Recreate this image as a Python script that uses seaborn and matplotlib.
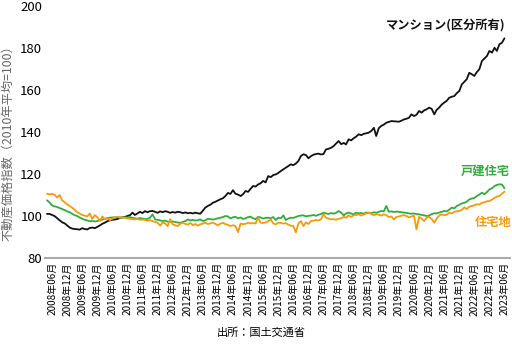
import matplotlib
matplotlib.use("Agg")
import matplotlib.pyplot as plt
import seaborn as sns
import pandas as pd
import numpy as np

# ---------------- data (monthly, 2008/04 - 2023/06) ----------------
start_month = "2008-04-01"
n_months = 183

mansion = [
    101, 101, 100.5, 100, 99, 98, 97, 96.5, 95.5, 94.5,
    94, 93.8, 93.7, 93.5, 94.2, 93.8, 93.6, 94.3, 94.5, 94.2,
    94.8, 95.5, 96.3, 96.8, 97.5, 97.9, 98.2, 98.3, 98.6, 99,
    99.4, 99.6, 100, 100.4, 101.6, 100.5, 101.2, 102, 101.4, 102.3,
    101.8, 102.3, 102.4, 102, 101.5, 102.2, 101.8, 102.3, 102, 101.5,
    101.9, 101.6, 102, 101.8, 101.4, 101.7, 101.3, 101.5, 101.2, 101.6,
    101.3, 101.1, 102.5, 104, 104.8, 105.4, 106.3, 106.8, 107.4, 108,
    108.5, 109.5, 111, 110.5, 112.3, 110.6, 110.2, 109.5, 110.4, 111.9,
    111.5, 113, 114.3, 114, 115, 115.6, 116.7, 116, 119, 118.5,
    119.5, 119.8, 120.5, 121.4, 122.2, 123, 123.8, 124.6, 124.2, 125,
    126.2, 128.6, 129.4, 129, 127.5, 128.5, 129.2, 129.5, 129.7, 129.3,
    129.5, 131.7, 132, 132.5, 133.3, 134.5, 135.7, 134.2, 134.8, 134.1,
    136.5, 136, 137, 137.8, 138.9, 138.5, 139.1, 139.4, 139.7, 140.5,
    142, 138.1, 141.8, 142.9, 143.5, 144.4, 144.8, 145.2, 145.1, 145,
    144.9, 145.4, 146, 146.3, 146.8, 148.4, 147.6, 148.2, 150, 149.2,
    150.3, 150.8, 151.6, 151, 148.4, 150.5, 151.6, 153, 154, 154.8,
    156.3, 156.8, 157.1, 158.5, 159.5, 162.7, 164, 165.1, 168.2, 167.5,
    166.7, 168.5, 169.9, 173.8, 175, 176.2, 178.6, 177.8, 180.1, 178.6,
    181.8, 182.5, 184.6,
]

detached = [
    107.5, 106.5, 105, 104.6, 104.3, 103.8, 103.3, 102.8, 102.2, 101.8,
    101, 100.4, 100, 99.3, 98.7, 98.2, 97.9, 97.5, 97.6, 97.4,
    97.6, 98, 98.3, 98.6, 99, 99.2, 99.3, 99.4, 99.5, 99.3,
    99.2, 99.4, 99.3, 99.5, 99.1, 98.9, 98.7, 99, 98.8, 98.5,
    98.6, 99.2, 100.8, 98.4, 98.2, 97.9, 97.6, 97.8, 97.3, 97.2,
    97.4, 97.1, 96.9, 96.8, 97.2, 97.6, 98.4, 97.9, 98.2, 97.8,
    98, 98.4, 97.6, 97.9, 98.7, 98.5, 98.3, 98.6, 98.9, 99.2,
    99.5, 100, 99.8, 98.8, 99.4, 99.6, 98.9, 99.3, 98.6, 98.9,
    99.5, 99.6, 98.9, 98.5, 99.6, 99.3, 98.8, 99.1, 99.2, 98.9,
    99.5, 98.1, 99.2, 98.9, 100.3, 98.1, 98.8, 99.2, 99.1, 99.5,
    100, 100.2, 100.3, 99.8, 100.1, 100.2, 100.5, 100.1, 100.6, 100.9,
    101.6, 101.2, 101, 101.4, 101.1, 101.5, 102.4, 101.6, 100.3, 101.2,
    101.6, 101.2, 100.8, 101.6, 101.3, 101.4, 101.1, 101.7, 101.5, 101.3,
    101.8, 101.5, 102, 102.4, 102.2, 104.8, 102, 102.2, 101.9, 102.1,
    102, 101.8, 101.6, 101.5, 101.2, 101.1, 101.2, 100.9, 100.8, 100.5,
    100.3, 100, 100.2, 100.9, 101.3, 101.2, 101.6, 102, 102.4, 102.2,
    103, 104, 103.6, 104.8, 105.3, 106, 106.3, 106.8, 107.9, 108.3,
    108.6, 109.5, 110.2, 111.1, 110.4, 111.4, 112.7, 113.2, 114.3, 114.8,
    115.1, 115, 113.2,
]

land = [
    110.6, 110.3, 110.5, 110.2, 108.8, 110, 107.5, 106.5, 105.6, 104.8,
    103.9, 103, 101.8, 101.2, 100.5, 100.2, 99.8, 101.2, 98.6, 100.4,
    99.5, 97.6, 99.8, 98.5, 98.9, 98, 98.7, 99.3, 99.6, 99.2,
    99.4, 99.1, 98.9, 98.7, 98.5, 98.4, 98.6, 98.2, 98.3, 98.1,
    97.8, 98, 97.6, 97.2, 96.8, 95.4, 96.9, 96.5, 95.2, 98.5,
    96, 95.6, 95.2, 96.3, 96.8, 96.2, 95.9, 96.7, 95.6, 96.2,
    95.4, 96, 96.4, 96.8, 96.2, 96.5, 96.9, 96.2, 95.6, 96.4,
    96.8, 96.1, 95.8, 95.2, 95.6, 95.2, 92.3, 96.4, 96.1, 96.3,
    96.8, 96.5, 96.6, 96.4, 99.2, 96.8, 96.7, 96.9, 97.5, 98.4,
    96.5, 96, 96.8, 96.7, 96.4, 96.6, 95.9, 95.4, 95.2, 92.2,
    96.4, 97.6, 95.2, 97, 96.2, 97.6, 97.8, 98.1, 97.9, 98.4,
    100.8, 99.2, 98.8, 98.4, 98.5, 98.2, 98.7, 98.9, 99.6, 99.2,
    100.3, 99.6, 100.3, 100.5, 100.8, 100.2, 100.7, 101.2, 101.6, 100.9,
    100.4, 100.9, 100.6, 100.2, 100.8, 100.4, 99.5, 99.8, 98.4, 99.6,
    99.8, 100.2, 100.4, 100, 99.3, 99.8, 100.1, 93.6, 99.6, 98.8,
    97.6, 99.2, 99.6, 98.6, 96.8, 98.7, 100.2, 100.8, 100.4, 100.6,
    101.6, 101.2, 102, 102.2, 102.4, 103, 104.1, 103.3, 104.4, 104.8,
    105, 105.6, 105.4, 106.3, 106.5, 107, 107.1, 107.8, 108.7, 109.2,
    109.5, 110.6, 111.6,
]

series_names = ["マンション(区分所有)", "戸建住宅", "住宅地"]
series_colors = ["#111111", "#2fae3c", "#f59a0c"]
y_ticks = [80, 100, 120, 140, 160, 180, 200]
tick_dates = pd.date_range("2008-06-01", "2023-06-01", freq="6MS")
tick_labels = [f"{d.year}年{d.month:02d}月" for d in tick_dates]
y_label = "不動産価格指数（2010年平均=100）"
source_text = "出所：国土交通省"

# ---------------- build frame ----------------
dates = pd.date_range(start_month, periods=n_months, freq="MS")
frames = []
for name, vals in zip(series_names, [mansion, detached, land]):
    frames.append(pd.DataFrame({"date": dates[:len(vals)], "value": vals, "series": name}))
df = pd.concat(frames, ignore_index=True)

# ---------------- style ----------------
sns.set_theme(style="white")
plt.rcParams["font.family"] = ["Noto Sans CJK JP", "DejaVu Sans"]

fig = plt.figure(figsize=(5.12, 3.56), dpi=100)
W, H = 512, 356
ax_left, ax_right, ax_top, ax_bottom = 45, 510, 6, 258
ax = fig.add_axes([ax_left / W, 1 - ax_bottom / H, (ax_right - ax_left) / W, (ax_bottom - ax_top) / H])

palette = dict(zip(series_names, series_colors))
sns.lineplot(data=df, x="date", y="value", hue="series", palette=palette,
             linewidth=1.3, legend=False, ax=ax)

ax.set_ylim(80, 200)
ax.set_yticks(y_ticks)
ax.set_yticklabels([str(v) for v in y_ticks], fontsize=9.5, color="black")
ax.set_xlim(dates[0] - pd.Timedelta(days=24), dates[-1] + pd.Timedelta(days=67))
ax.set_xticks(tick_dates)
ax.set_xticklabels(tick_labels, rotation=90, fontsize=7.2, color="black")
ax.tick_params(axis="both", length=0)
ax.tick_params(axis="x", pad=3)
ax.tick_params(axis="y", pad=2)
ax.set_xlabel("")
ax.set_ylabel("")
for s in ["top", "right", "left"]:
    ax.spines[s].set_visible(False)
ax.spines["bottom"].set_color("#aaaaaa")
ax.spines["bottom"].set_linewidth(1.5)
ax.grid(False)

# end labels
ends = {name: (dates[len(v) - 1], v[-1]) for name, v in zip(series_names, [mansion, detached, land])}
label_offsets = {series_names[0]: (1, 12), series_names[1]: (5, 17), series_names[2]: (7, -31)}
for name, color in zip(series_names, series_colors):
    ax.annotate(name, xy=ends[name], xytext=label_offsets[name], textcoords="offset pixels",
                ha="right", va="center", fontsize=8.8, color=color, fontweight="bold",
                annotation_clip=False)

fig.text(8 / W, 1 - 140 / H, y_label, rotation=90, ha="center", va="center",
         fontsize=8.8, color="#666666")
fig.text(261 / W, 1 - 333 / H, source_text, ha="center", va="center", fontsize=8, color="black")

fig.savefig("out.png", dpi=100)
